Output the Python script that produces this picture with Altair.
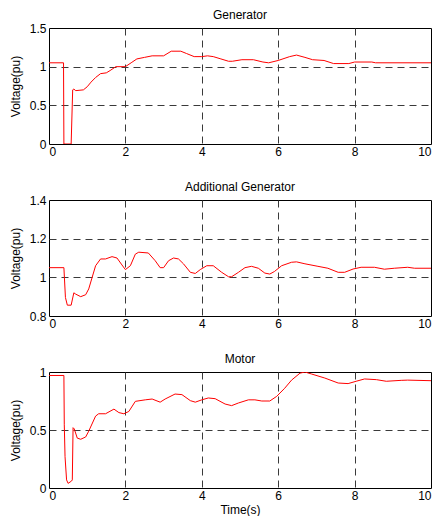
import altair as alt
import pandas as pd

FONT = "Liberation Sans"

gen_t = [0, 0.38, 0.39, 0.58, 0.62, 0.65, 0.7, 0.9, 1.0, 1.1, 1.22, 1.35, 1.5, 1.6, 1.75, 2.0,
         2.15, 2.3, 2.5, 2.7, 3.0, 3.2, 3.45, 3.6, 3.8, 4.0, 4.15, 4.3, 4.5, 4.7, 4.8, 5.05,
         5.35, 5.6, 5.75, 6.0, 6.3, 6.48, 6.7, 6.9, 7.2, 7.45, 7.85, 8.0, 8.45, 8.55, 10]
gen_v = [1.05, 1.05, 0.0, 0.0, 0.70, 0.71, 0.69, 0.70, 0.74, 0.80, 0.86, 0.91, 0.92, 0.95, 1.0, 1.0,
         1.05, 1.10, 1.12, 1.14, 1.14, 1.20, 1.20, 1.17, 1.13, 1.13, 1.14, 1.13, 1.10, 1.07, 1.07, 1.09,
         1.09, 1.06, 1.05, 1.08, 1.13, 1.15, 1.12, 1.09, 1.08, 1.04, 1.04, 1.06, 1.06, 1.05, 1.05]

add_t = [0, 0.39, 0.43, 0.48, 0.58, 0.65, 0.70, 0.83, 0.96, 1.04, 1.22, 1.35, 1.48, 1.65, 1.78,
         1.91, 2.0, 2.13, 2.26, 2.35, 2.6, 2.78, 2.91, 3.0, 3.13, 3.26, 3.39, 3.52, 3.7, 3.83,
         3.96, 4.13, 4.3, 4.52, 4.7, 4.78, 4.96, 5.13, 5.3, 5.48, 5.65, 5.78, 5.9, 6.09, 6.35,
         6.48, 6.7, 7.04, 7.3, 7.57, 7.74, 7.96, 8.17, 8.52, 8.78, 9.04, 9.39, 9.57, 10]
add_v = [1.05, 1.05, 0.896, 0.856, 0.856, 0.92, 0.913, 0.90, 0.91, 0.94, 1.06, 1.095, 1.095, 1.107, 1.10,
         1.064, 1.04, 1.06, 1.12, 1.13, 1.126, 1.086, 1.05, 1.05, 1.086, 1.10, 1.095, 1.07, 1.026, 1.02,
         1.04, 1.06, 1.06, 1.026, 1.003, 1.003, 1.026, 1.05, 1.057, 1.047, 1.022, 1.017, 1.03, 1.06, 1.078,
         1.08, 1.07, 1.057, 1.047, 1.026, 1.026, 1.043, 1.052, 1.052, 1.042, 1.047, 1.052, 1.047, 1.047]

mot_t = [0, 0.39, 0.40, 0.42, 0.46, 0.50, 0.59, 0.61, 0.63, 0.66, 0.74, 0.83, 0.96, 1.04, 1.22,
         1.30, 1.48, 1.70, 1.83, 1.96, 2.09, 2.26, 2.52, 2.70, 2.91, 3.04, 3.30, 3.48, 3.70,
         3.83, 4.0, 4.17, 4.35, 4.61, 4.78, 4.96, 5.22, 5.39, 5.57, 5.78, 5.96, 6.17, 6.35,
         6.57, 6.70, 6.87, 7.22, 7.57, 7.83, 8.04, 8.26, 8.57, 8.83, 9.22, 9.39, 10]
mot_v = [0.97, 0.97, 0.55, 0.27, 0.07, 0.04, 0.06, 0.07, 0.52, 0.51, 0.43, 0.42, 0.44, 0.49, 0.62,
         0.64, 0.64, 0.68, 0.65, 0.64, 0.66, 0.747, 0.76, 0.767, 0.74, 0.767, 0.81, 0.805, 0.753,
         0.74, 0.76, 0.776, 0.77, 0.724, 0.71, 0.733, 0.76, 0.76, 0.75, 0.75, 0.79, 0.86, 0.93,
         0.99, 1.0, 0.983, 0.948, 0.905, 0.90, 0.92, 0.94, 0.934, 0.92, 0.928, 0.93, 0.925]

x_ticks = [0, 2, 4, 6, 8, 10]


def panel(t, v, title, ydom, yticks, show_xtitle, height):
    df = pd.DataFrame({"t": t, "v": v})
    lo, hi = ydom
    x_axis = alt.Axis(
        values=x_ticks, title="Time(s)" if show_xtitle else None, format="~r",
        labelFlush=True, labelPadding=2, titlePadding=3,
        gridOpacity={"condition": {"test": "datum.value <= 0 || datum.value >= 10", "value": 0}, "value": 1},
    )
    y_axis = alt.Axis(
        values=yticks, title="Voltage(pu)", format="~r", labelPadding=3, titlePadding=7,
        gridOpacity={"condition": {"test": f"datum.value <= {lo} || datum.value >= {hi}", "value": 0}, "value": 1},
    )
    return alt.Chart(df).mark_line(color="#ff0000", strokeWidth=1, clip=True).encode(
        x=alt.X("t:Q", scale=alt.Scale(domain=[0, 10], nice=False), axis=x_axis),
        y=alt.Y("v:Q", scale=alt.Scale(domain=list(ydom), nice=False, zero=False), axis=y_axis),
    ).properties(
        width=382, height=height,
        title=alt.TitleParams(title, fontSize=12, fontWeight="normal", font=FONT, color="black", offset=0),
    )


p1 = panel(gen_t, gen_v, "Generator", (0, 1.5), [0, 0.5, 1, 1.5], False, 116)
p2 = panel(add_t, add_v, "Additional Generator", (0.8, 1.4), [0.8, 1.0, 1.2, 1.4], False, 116)
p3 = panel(mot_t, mot_v, "Motor", (0, 1), [0, 0.5, 1], True, 116)

chart = alt.vconcat(p1, p2, p3, spacing=22).properties(
    background="white", padding=0
).configure_view(
    stroke="black", strokeWidth=1
).configure_axis(
    domain=False, ticks=False, grid=True, gridColor="#3a3a3a", gridDash=[7, 5], gridWidth=1,
    labelFont=FONT, labelFontSize=12, labelColor="black",
    titleFont=FONT, titleFontSize=12, titleFontWeight="normal", titleColor="black",
)

chart.save("out.html", embed_options={"renderer": "svg", "actions": False})
